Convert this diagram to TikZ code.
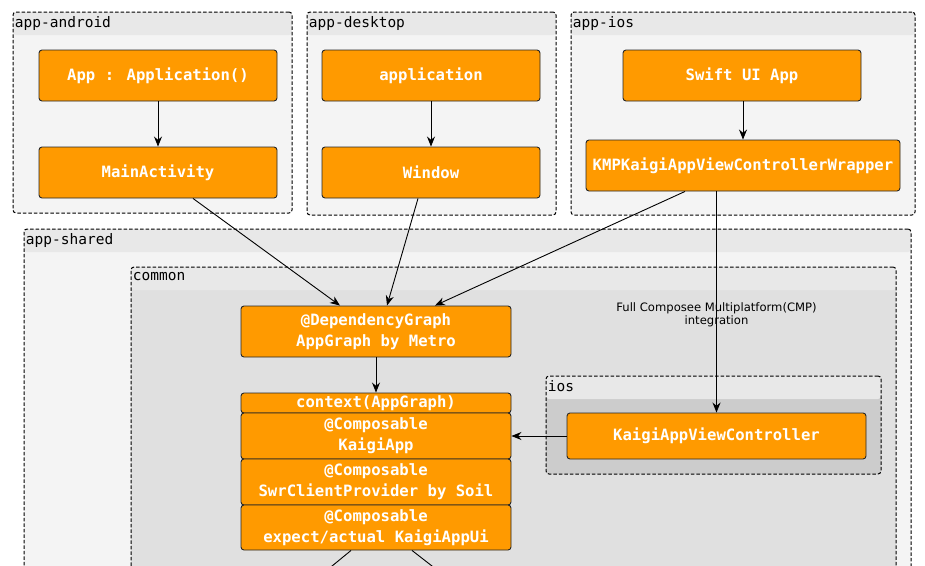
\documentclass[tikz,border=0pt]{standalone}
\usepackage{fontspec}
\usepackage{tikz}
\usetikzlibrary{arrows.meta,positioning,calc}
\newfontfamily\boxfont{DejaVu Sans Mono}
\newfontfamily\notefont{DejaVu Sans}
\definecolor{kaigiorange}{HTML}{FF9A00}
\definecolor{grpbody}{HTML}{F4F4F4}
\definecolor{grphead}{HTML}{E8E8E8}
\definecolor{commonbody}{HTML}{E0E0E0}
\definecolor{iosbody}{HTML}{CCCCCC}

\begin{document}
\begin{tikzpicture}[x=1pt,y=-1pt,line width=0.9pt,
    box/.style={draw=black!85,fill=kaigiorange,rounded corners=3pt,text=white,
        font=\boxfont\bfseries\fontsize{15.6}{21}\selectfont,align=center,inner sep=0pt},
    grp/.style={draw=black,line width=1pt,dash pattern=on 3.5pt off 2pt,rounded corners=3pt,fill=#1,inner sep=0pt,
        path picture={\fill[grphead] (path picture bounding box.north west) rectangle
            ([yshift=-23pt]path picture bounding box.north east);}},
    grplbl/.style={anchor=north west,inner sep=2pt,yshift=-3pt,font=\boxfont\fontsize{14.5}{16}\selectfont},
    arr/.style={-{Stealth[length=10pt,width=8pt]},black}]
    \useasboundingbox (0,0) rectangle (925,565);
    \clip (0,0) rectangle (925,565);

    % groups
    \node[grp=grpbody,minimum width=279,minimum height=201] (android) at (152.5,112.5) {};
    \node[grplbl] (androidlbl) at (android.north west) {app-android};
    \node[grp=grpbody,minimum width=249,minimum height=203] (desktop) at (431.5,113.5) {};
    \node[grplbl] (desktoplbl) at (desktop.north west) {app-desktop};
    \node[grp=grpbody,minimum width=344,minimum height=203] (iosapp) at (743,113.5) {};
    \node[grplbl] (iosapplbl) at (iosapp.north west) {app-ios};
    \node[grp=grpbody,minimum width=887,minimum height=391] (shared) at (467.5,424.5) {};
    \node[grplbl] (sharedlbl) at (shared.north west) {app-shared};
    \node[grp=commonbody,minimum width=765,minimum height=353] (common) at (513.5,443.5) {};
    \node[grplbl] (commonlbl) at (common.north west) {common};
    \node[grp=iosbody,minimum width=335,minimum height=98] (ios) at (713.5,425) {};
    \node[grplbl] (ioslbl) at (ios.north west) {ios};

    % boxes
    \node[box,minimum width=238,minimum height=51] (app)     at (158,75.5)  {App : Application()};
    \node[box,minimum width=238,minimum height=51] (mainact) at (158,172.5) {MainActivity};
    \node[box,minimum width=218,minimum height=51] (deskapp) at (431,75.5)  {application};
    \node[box,minimum width=218,minimum height=51] (window)  at (431,172.5) {Window};
    \node[box,minimum width=238,minimum height=51] (swiftui) at (742,75.5)  {Swift UI App};
    \node[box,minimum width=314,minimum height=51] (wrapper) at (743,165.5) {KMPKaigiAppViewControllerWrapper};

    \node[box,minimum width=270,minimum height=51] (graph)    at (376,331.5) {@DependencyGraph\\AppGraph by Metro};
    \node[box,minimum width=270,minimum height=20] (context)  at (376,403)   {context(AppGraph)};
    \node[box,minimum width=270,minimum height=46] (kaigiapp) at (376,436)   {@Composable\\KaigiApp};
    \node[box,minimum width=270,minimum height=46] (swr)      at (376,482)   {@Composable\\SwrClientProvider by Soil};
    \node[box,minimum width=270,minimum height=45] (appui)    at (376,527.5) {@Composable\\expect/actual KaigiAppUi};
    \node[box,minimum width=299,minimum height=46] (vc)       at (716.5,436) {KaigiAppViewController};

    % connectors
    \draw[arr] (app) -- (mainact);
    \draw[arr] (deskapp) -- (window);
    \draw[arr] (swiftui.south -| wrapper.north) -- (wrapper.north);
    \draw[arr] ([xshift=35]mainact.south) -- ([xshift=-36]graph.north);
    \draw[arr] ([xshift=-13]window.south) -- ([xshift=11]graph.north);
    \draw[arr] ([xshift=-58]wrapper.south) -- ([xshift=59]graph.north);
    \draw[arr] (wrapper.south -| vc.north) -- (vc.north)
        node[pos=0.56,align=center,font=\notefont\fontsize{11.6}{13}\selectfont] (cmplbl)
        {Full Composee Multiplatform(CMP)\\integration};
    \draw[arr] (graph) -- (context);
    \draw[arr] (vc) -- (kaigiapp);

    \coordinate (outL) at (315,580);
    \coordinate (outR) at (450,580);
    \draw ([xshift=-25]appui.south) -- (outL);
    \draw ([xshift=36]appui.south) -- (outR);
\end{tikzpicture}
\end{document}
